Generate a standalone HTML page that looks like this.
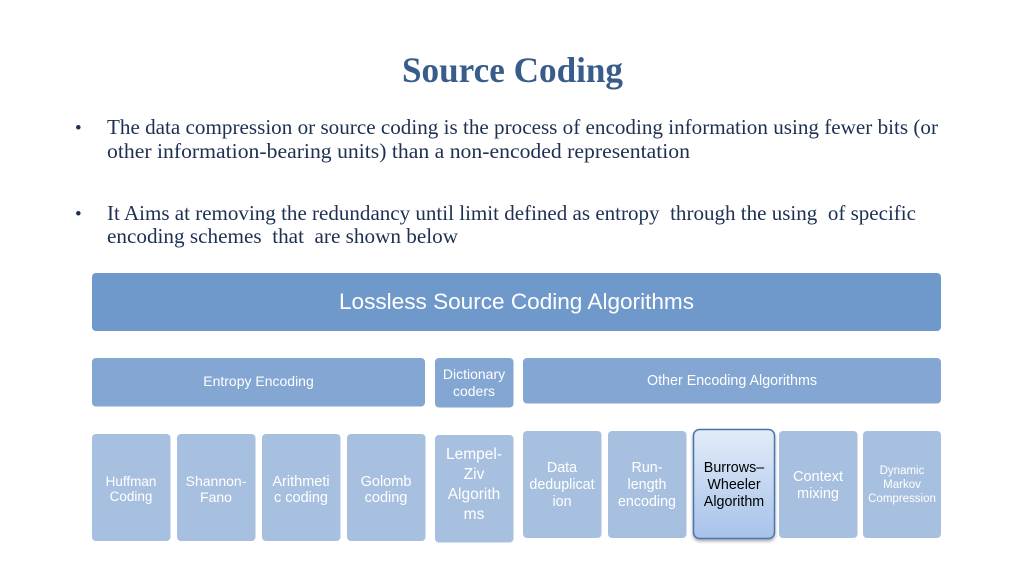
<!DOCTYPE html>
<html>
<head>
<meta charset="utf-8">
<style>
html,body{margin:0;padding:0;background:#fff;width:1024px;height:576px;overflow:hidden;}
svg{display:block;}
</style>
</head>
<body>
<svg width="1024" height="576" viewBox="0 0 1024 576" xmlns="http://www.w3.org/2000/svg">
<defs>
<linearGradient id="g" x1="0" y1="0" x2="0" y2="1">
<stop offset="0" stop-color="#e2ecf9"/>
<stop offset="1" stop-color="#a7c2ea"/>
</linearGradient>
<filter id="sh" x="-20%" y="-20%" width="140%" height="140%">
<feDropShadow dx="0" dy="2" stdDeviation="1.6" flood-color="#000" flood-opacity="0.35"/>
</filter>
</defs>
<rect width="1024" height="576" fill="#ffffff"/>

<!-- Title -->
<text x="402" y="82" font-family="Liberation Serif, serif" font-weight="bold" font-size="36" fill="#385d8a" textLength="221" lengthAdjust="spacingAndGlyphs">Source Coding</text>

<!-- Bullets -->
<g font-family="Liberation Serif, serif" font-size="21" fill="#1d3052">
<text x="75" y="134" font-size="19">•</text>
<text x="107" y="134" textLength="831" lengthAdjust="spacingAndGlyphs">The data compression or source coding is the process of encoding information using fewer bits (or</text>
<text x="107" y="158" textLength="583" lengthAdjust="spacingAndGlyphs">other information-bearing units) than a non-encoded representation</text>
<text x="75" y="220" font-size="19">•</text>
<text x="107" y="220" textLength="809" lengthAdjust="spacingAndGlyphs" xml:space="preserve">It Aims at removing the redundancy until limit defined as entropy  through the using  of specific</text>
<text x="107" y="243" textLength="351" lengthAdjust="spacingAndGlyphs" xml:space="preserve">encoding schemes  that  are shown below</text>
</g>

<!-- Big bar -->
<rect x="92" y="273" width="849" height="58" rx="4" fill="#7099cb"/>
<text x="516.5" y="309" text-anchor="middle" font-family="Liberation Sans, sans-serif" font-size="22.5" fill="#ffffff" textLength="355" lengthAdjust="spacingAndGlyphs">Lossless Source Coding Algorithms</text>

<!-- Row 2 -->
<g fill="#83a6d3">
<rect x="92" y="358" width="333" height="48.5" rx="4"/>
<rect x="435" y="358" width="78.5" height="49.5" rx="4"/>
<rect x="523" y="358" width="418" height="45.5" rx="4"/>
</g>
<g font-family="Liberation Sans, sans-serif" fill="#ffffff" text-anchor="middle">
<text x="258.5" y="386" font-size="14">Entropy Encoding</text>
<text x="474" y="379" font-size="14">Dictionary</text>
<text x="474" y="396" font-size="14">coders</text>
<text x="732" y="385" font-size="14.3">Other Encoding Algorithms</text>
</g>

<!-- Row 3 -->
<g fill="#a8c0df">
<rect x="92" y="434" width="78.5" height="107" rx="4"/>
<rect x="177" y="434" width="78.5" height="107" rx="4"/>
<rect x="262" y="434" width="78.5" height="107" rx="4"/>
<rect x="347" y="434" width="78.5" height="107" rx="4"/>
<rect x="435" y="435" width="78.5" height="107.5" rx="4"/>
<rect x="523" y="431" width="78.5" height="107" rx="4"/>
<rect x="608" y="431" width="78.5" height="107" rx="4"/>
<rect x="779" y="431" width="78.5" height="107" rx="4"/>
<rect x="863" y="431" width="78" height="107" rx="4"/>
</g>

<!-- BWT highlighted -->
<rect x="693.5" y="429.5" width="81" height="109" rx="6" fill="url(#g)" stroke="#4b74ab" stroke-width="1.5" filter="url(#sh)"/>

<g font-family="Liberation Sans, sans-serif" fill="#ffffff" text-anchor="middle">
<text x="131" y="486" font-size="13.5">Huffman</text>
<text x="131" y="501" font-size="13.5">Coding</text>
<text x="216" y="486" font-size="14">Shannon-</text>
<text x="216" y="502" font-size="14">Fano</text>
<text x="301" y="486" font-size="14.5">Arithmeti</text>
<text x="301" y="502" font-size="14.5">c coding</text>
<text x="386" y="486" font-size="14.5">Golomb</text>
<text x="386" y="502" font-size="14.5">coding</text>
<text x="474" y="459" font-size="15.5">Lempel-</text>
<text x="474" y="479" font-size="15.5">Ziv</text>
<text x="474" y="499" font-size="15.5">Algorith</text>
<text x="474" y="519" font-size="15.5">ms</text>
<text x="562" y="472" font-size="14.3">Data</text>
<text x="562" y="489" font-size="14.3">deduplicat</text>
<text x="562" y="506" font-size="14.3">ion</text>
<text x="647" y="472" font-size="14.3">Run-</text>
<text x="647" y="489" font-size="14.3">length</text>
<text x="647" y="506" font-size="14.3">encoding</text>
<text x="818" y="481" font-size="14.5">Context</text>
<text x="818" y="498" font-size="14.5">mixing</text>
<text x="902" y="474" font-size="11.5">Dynamic</text>
<text x="902" y="488" font-size="11.5">Markov</text>
<text x="902" y="502" font-size="11.5">Compression</text>
</g>
<g font-family="Liberation Sans, sans-serif" fill="#000000" text-anchor="middle" font-size="14.3">
<text x="734" y="472">Burrows–</text>
<text x="734" y="489">Wheeler</text>
<text x="734" y="506">Algorithm</text>
</g>
</svg>
</body>
</html>
